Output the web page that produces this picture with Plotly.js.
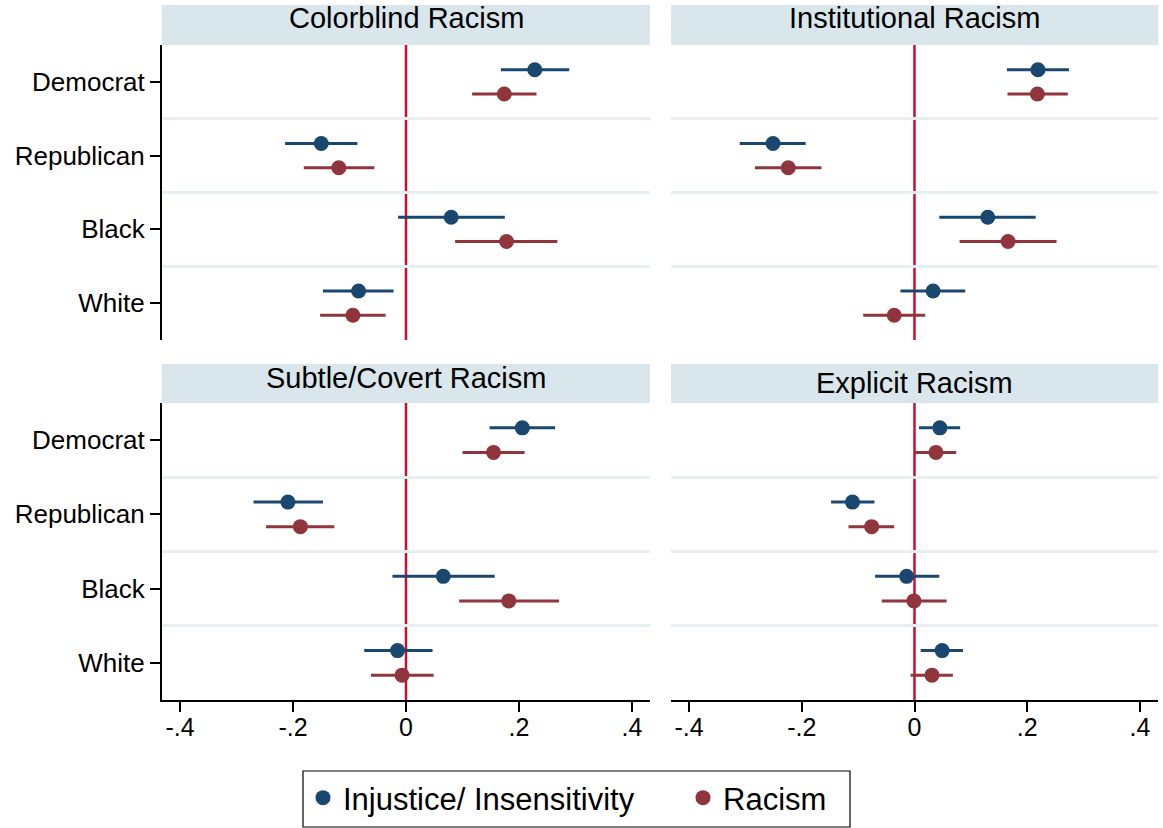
<!DOCTYPE html>
<html>
<head>
<meta charset="utf-8">
<script src="https://cdn.plot.ly/plotly-3.0.1.min.js"></script>
<style>html,body{margin:0;padding:0;background:#fff;}#chart{width:1163px;height:828px;}</style>
</head>
<body>
<div id="chart"></div>
<script>
// ---------- data ----------
const categories = ['Democrat', 'Republican', 'Black', 'White'];
const panelTitles = ['Colorblind Racism', 'Institutional Racism', 'Subtle/Covert Racism', 'Explicit Racism'];
const seriesNames = ['Injustice/ Insensitivity', 'Racism'];
const xTickVals = [-0.4, -0.2, 0, 0.2, 0.4];
const xTickText = ['-.4', '-.2', '0', '.2', '.4'];

// Colorblind Racism
const colorblindInjEst = [0.228, -0.150, 0.080, -0.084];
const colorblindInjLo  = [0.168, -0.214, -0.014, -0.147];
const colorblindInjHi  = [0.289, -0.086, 0.175, -0.022];
const colorblindRacEst = [0.174, -0.119, 0.178, -0.094];
const colorblindRacLo  = [0.117, -0.181, 0.087, -0.152];
const colorblindRacHi  = [0.231, -0.056, 0.268, -0.036];

// Institutional Racism
const institutionalInjEst = [0.219, -0.251, 0.130, 0.033];
const institutionalInjLo  = [0.164, -0.310, 0.044, -0.025];
const institutionalInjHi  = [0.274, -0.193, 0.215, 0.090];
const institutionalRacEst = [0.218, -0.224, 0.166, -0.036];
const institutionalRacLo  = [0.165, -0.283, 0.080, -0.091];
const institutionalRacHi  = [0.272, -0.165, 0.252, 0.019];

// Subtle/Covert Racism
const subtleInjEst = [0.206, -0.209, 0.066, -0.015];
const subtleInjLo  = [0.148, -0.270, -0.024, -0.074];
const subtleInjHi  = [0.264, -0.147, 0.157, 0.047];
const subtleRacEst = [0.155, -0.187, 0.182, -0.007];
const subtleRacLo  = [0.100, -0.248, 0.094, -0.062];
const subtleRacHi  = [0.210, -0.127, 0.271, 0.049];

// Explicit Racism
const explicitInjEst = [0.045, -0.110, -0.014, 0.049];
const explicitInjLo  = [0.008, -0.148, -0.070, 0.011];
const explicitInjHi  = [0.081, -0.071, 0.044, 0.086];
const explicitRacEst = [0.038, -0.076, -0.001, 0.031];
const explicitRacLo  = [0.001, -0.117, -0.058, -0.007];
const explicitRacHi  = [0.074, -0.036, 0.057, 0.068];

// ---------- build ----------
const W = 1163, H = 828;
const FONT = 'Liberation Sans, Arial, Helvetica, sans-serif';
const colors = ['#1a476f', '#90353b'];
const offsets = [-0.165, 0.165];

const panels = [
  [[colorblindInjEst, colorblindInjLo, colorblindInjHi], [colorblindRacEst, colorblindRacLo, colorblindRacHi]],
  [[institutionalInjEst, institutionalInjLo, institutionalInjHi], [institutionalRacEst, institutionalRacLo, institutionalRacHi]],
  [[subtleInjEst, subtleInjLo, subtleInjHi], [subtleRacEst, subtleRacLo, subtleRacHi]],
  [[explicitInjEst, explicitInjLo, explicitInjHi], [explicitRacEst, explicitRacLo, explicitRacHi]]
];

const px2x = p => p / W;
const px2y = p => 1 - p / H;

// plot-area geometry (pixels)
const colX = [[162, 650], [671, 1158]];
const rowY = [[45, 340], [403, 700]];
const stripY = [[5, 45], [364, 403]];
const titleY = [18.5, 18.5, 377.5, 382.6];
const legendBox = {x0: 303, x1: 850, y0: 771, y1: 827};

const traces = [];
panels.forEach((p, pi) => {
  const sfx = pi === 0 ? '' : String(pi + 1);
  p.forEach((s, si) => {
    const [est, lo, hi] = s;
    traces.push({
      type: 'scatter', mode: 'markers',
      x: est,
      y: categories.map((c, i) => i + 1 + offsets[si]),
      xaxis: 'x' + sfx, yaxis: 'y' + sfx,
      name: seriesNames[si],
      legendgroup: seriesNames[si],
      showlegend: pi === 0,
      marker: {color: colors[si], size: 15},
      error_x: {
        type: 'data', symmetric: false,
        array: est.map((v, i) => hi[i] - v),
        arrayminus: est.map((v, i) => v - lo[i]),
        color: colors[si], thickness: 3, width: 0
      },
      hoverinfo: 'x+name'
    });
  });
});

const layout = {
  width: W, height: H,
  margin: {l: 0, r: 0, t: 0, b: 0},
  paper_bgcolor: '#ffffff', plot_bgcolor: '#ffffff',
  font: {family: FONT, color: '#000000'},
  showlegend: true,
  legend: {
    orientation: 'h',
    x: px2x(legendBox.x0), y: px2y(legendBox.y0), xanchor: 'left', yanchor: 'top',
    borderwidth: 0, bgcolor: 'rgba(0,0,0,0)',
    font: {size: 31, family: FONT, color: '#000000'},
    entrywidth: 335, entrywidthmode: 'pixels',
    traceorder: 'normal'
  },
  shapes: [{
    type: 'rect', xref: 'paper', yref: 'paper', layer: 'above',
    x0: px2x(legendBox.x0), x1: px2x(legendBox.x1),
    y0: px2y(legendBox.y1), y1: px2y(legendBox.y0),
    line: {color: '#000000', width: 1.2}, fillcolor: 'rgba(0,0,0,0)'
  }],
  annotations: []
};

panels.forEach((p, pi) => {
  const sfx = pi === 0 ? '' : String(pi + 1);
  const col = pi % 2, row = Math.floor(pi / 2);
  const isLeft = col === 0, isBottom = row === 1;
  layout['xaxis' + sfx] = {
    domain: [px2x(colX[col][0]), px2x(colX[col][1])],
    anchor: 'y' + sfx,
    range: [-0.432, 0.432],
    fixedrange: true,
    showgrid: false, zeroline: false,
    showline: isBottom, linecolor: '#000000', linewidth: 2,
    ticks: isBottom ? 'outside' : '', ticklen: 10, tickwidth: 2, tickcolor: '#000000',
    showticklabels: isBottom, ticklabelstandoff: -6,
    tickvals: xTickVals, ticktext: xTickText,
    tickfont: {size: 25, family: FONT, color: '#000000'}
  };
  layout['yaxis' + sfx] = {
    domain: [px2y(rowY[row][1]), px2y(rowY[row][0])],
    anchor: 'x' + sfx,
    range: [categories.length + 0.5, 0.5],
    fixedrange: true,
    showgrid: false, zeroline: false,
    showline: isLeft, linecolor: '#000000', linewidth: 2,
    ticks: isLeft ? 'outside' : '', ticklen: 10, tickwidth: 2, tickcolor: '#000000',
    showticklabels: isLeft,
    tickvals: categories.map((c, i) => i + 1), ticktext: categories,
    tickfont: {size: 26, family: FONT, color: '#000000'},
    minor: {
      tickvals: categories.slice(1).map((c, i) => i + 1.5),
      showgrid: true, gridcolor: '#e6eff1', gridwidth: 3, ticks: ''
    }
  };
  // strip background
  layout.shapes.push({
    type: 'rect', xref: 'paper', yref: 'paper', layer: 'below',
    x0: px2x(colX[col][0]), x1: px2x(colX[col][1]),
    y0: px2y(stripY[row][1]), y1: px2y(stripY[row][0]),
    fillcolor: '#d9e6eb', line: {width: 0}
  });
  // reference line at zero
  layout.shapes.push({
    type: 'line', xref: 'x' + sfx, yref: 'y' + sfx + ' domain', layer: 'below',
    x0: 0, x1: 0, y0: 0, y1: 1,
    line: {color: '#c8102e', width: 2.5}
  });
  layout.annotations.push({
    text: panelTitles[pi], showarrow: false,
    xref: 'paper', yref: 'paper',
    x: px2x((colX[col][0] + colX[col][1]) / 2), y: px2y(titleY[pi]),
    xanchor: 'center', yanchor: 'middle',
    font: {size: 29, family: FONT, color: '#000000'}
  });
});

Plotly.newPlot('chart', traces, layout, {displayModeBar: false, staticPlot: true});
</script>
</body>
</html>
